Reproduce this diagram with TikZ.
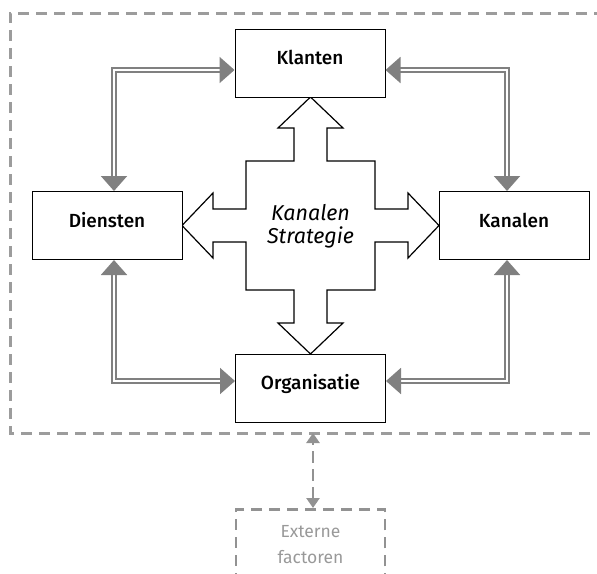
\documentclass[tikz,border=0pt]{standalone}
\usepackage{fontspec}
\setmainfont{Fira Sans}
\newfontfamily\lblfont{Fira Sans Medium}
\usetikzlibrary{arrows.meta,calc}

\definecolor{framegray}{HTML}{9C9C9C}
\definecolor{linkgray}{HTML}{808080}
\definecolor{extgray}{HTML}{929292}
\definecolor{exttext}{HTML}{999999}

\tikzset{
  box/.style={draw=black, line width=1pt, fill=white, inner sep=0pt,
    minimum width=150pt, minimum height=68pt,
    font=\lblfont\fontsize{19}{21}\selectfont, text height=13pt, text depth=10pt},
  link/.style={draw=linkgray, double=white, line width=2pt, double distance=1.5pt,
    {Triangle[length=15pt,width=26pt]}-{Triangle[length=15pt,width=26pt]}},
  frame/.style={draw=framegray, line width=3pt, dash pattern=on 11pt off 7pt},
  extbox/.style={draw=extgray, line width=2.8pt, dash pattern=on 11pt off 7pt,
    inner sep=0pt, minimum width=149pt, minimum height=70pt, align=center,
    text=exttext, font=\fontsize{17.5}{26}\selectfont},
  extlink/.style={draw=extgray, line width=2.8pt, dash pattern=on 12pt off 6pt,
    {Triangle[length=10pt,width=13pt]}-{Triangle[length=10pt,width=13pt]}},
  crossshape/.style={draw=black, line width=1.2pt, fill=white, line join=miter},
  crosstext/.style={align=center, font=\itshape\fontsize{21.5}{23}\selectfont}
}

\begin{document}
\begin{tikzpicture}[x=1pt, y=-1pt]
  \useasboundingbox (0,0) rectangle (597,573);
  \clip (0,0) rectangle (597,573);

  % surrounding dashed frame (open to the right)
  \draw[frame] (605,13) -- (10,13) -- (10,433) -- (605,433);

  % external factors box below the frame
  \node[extbox, anchor=north] (ext) at (310.5,508) {Externe\\factoren};
  \coordinate (gate) at (313,433);
  \draw[extlink] (gate |- ext.north) -- (gate);

  % central strategy cross with four block arrows
  \begin{scope}[shift={(310.5,225.5)}]
    \draw[crossshape]
      (0,-128.5) -- (32.5,-97.5) -- (16.5,-97.5) -- (16.5,-64.5) -- (64.5,-64.5)
      -- (64.5,-16.5) -- (97.5,-16.5) -- (97.5,-32.5) -- (128.5,0) -- (97.5,32.5)
      -- (97.5,16.5) -- (64.5,16.5) -- (64.5,64.5) -- (16.5,64.5) -- (16.5,97.5)
      -- (32.5,97.5) -- (0,128.5) -- (-32.5,97.5) -- (-16.5,97.5) -- (-16.5,64.5)
      -- (-64.5,64.5) -- (-64.5,16.5) -- (-97.5,16.5) -- (-97.5,32.5) -- (-128.5,0)
      -- (-97.5,-32.5) -- (-97.5,-16.5) -- (-64.5,-16.5) -- (-64.5,-64.5)
      -- (-16.5,-64.5) -- (-16.5,-97.5) -- (-32.5,-97.5) -- cycle;
    \node[crosstext] (strat) at (0,1) {Kanalen\\Strategie};
  \end{scope}

  % the four blocks
  \node[box] (klant)  at (310,63)    {Klanten};
  \node[box] (dienst) at (107,225.5) {Diensten};
  \node[box] (kanaal) at (514,225.5) {Kanalen};
  \node[box] (org)    at (310.5,388) {Organisatie};

  % double connectors between neighbouring blocks
  \coordinate (ctl) at (114,70);
  \coordinate (ctr) at (507,70);
  \coordinate (cbl) at (114,381);
  \coordinate (cbr) at (507,381);
  \draw[link] (klant.west |- ctl) -- (ctl) -- (ctl |- dienst.north);
  \draw[link] (klant.east |- ctr) -- (ctr) -- (ctr |- kanaal.north);
  \draw[link] (org.west |- cbl) -- (cbl) -- (cbl |- dienst.south);
  \draw[link] (org.east |- cbr) -- (cbr) -- (cbr |- kanaal.south);
\end{tikzpicture}
\end{document}
